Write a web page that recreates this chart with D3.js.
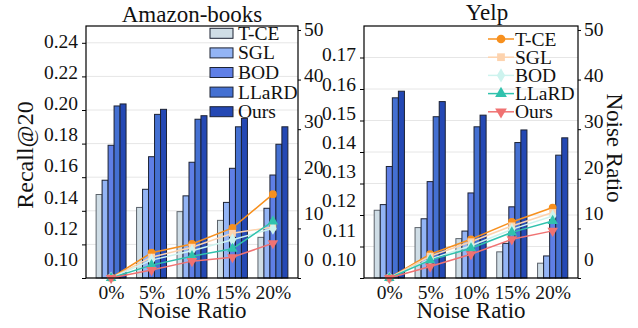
<!DOCTYPE html>
<html>
<head>
    <script src="https://d3js.org/d3.v7.min.js"></script>
    <style>
        body { margin: 0; background: #fff; }
        text { font-family: "Liberation Serif", "Times New Roman", serif; fill: #111; }
    </style>
</head>
<body>
    <div id="chart"></div>
    <script>
        // categories
        var ratios = ["0%", "5%", "10%", "15%", "20%"];
        var methods = ["T-CE", "SGL", "BOD", "LLaRD", "Ours"];

        // Amazon-books, Recall@20 (bars)
        var amazonTCE = [0.1497, 0.1420, 0.1395, 0.1343, 0.1242];
        var amazonSGL = [0.1582, 0.1528, 0.1489, 0.1450, 0.1415];
        var amazonBOD = [0.1790, 0.1722, 0.1689, 0.1653, 0.1613];
        var amazonLLaRD = [0.2024, 0.1974, 0.1945, 0.1900, 0.1796];
        var amazonOurs = [0.2036, 0.2004, 0.1966, 0.1950, 0.1900];

        // Amazon-books, drop in % (lines, right axis)
        var amazonDropTCE = [0, 5.1, 6.85, 10.1, 16.9];
        var amazonDropSGL = [0, 4.2, 6.2, 9.0, 10.3];
        var amazonDropBOD = [0, 3.6, 5.5, 7.7, 10.0];
        var amazonDropLLaRD = [0, 2.6, 4.4, 5.9, 11.4];
        var amazonDropOurs = [0, 1.6, 3.4, 4.2, 7.0];

        // Yelp, Recall@20 (bars)
        var yelpTCE = [0.1215, 0.1160, 0.1125, 0.1083, 0.1047];
        var yelpSGL = [0.1233, 0.1188, 0.1149, 0.1110, 0.1070];
        var yelpBOD = [0.1354, 0.1306, 0.1270, 0.1226, 0.1185];
        var yelpLLaRD = [0.1572, 0.1512, 0.1480, 0.1430, 0.1390];
        var yelpOurs = [0.1593, 0.1560, 0.1517, 0.1470, 0.1445];

        // Yelp, drop in % (lines, right axis)
        var yelpDropTCE = [0, 4.8, 7.8, 11.3, 14.2];
        var yelpDropSGL = [0, 4.4, 7.3, 10.5, 13.2];
        var yelpDropBOD = [0, 3.8, 6.5, 9.8, 12.5];
        var yelpDropLLaRD = [0, 3.6, 6.0, 9.2, 11.5];
        var yelpDropOurs = [0, 2.3, 4.8, 7.8, 9.5];

        var amazonTicks = [0.10, 0.12, 0.14, 0.16, 0.18, 0.20, 0.22, 0.24];
        var yelpTicks = [0.10, 0.11, 0.12, 0.13, 0.14, 0.15, 0.16, 0.17];
        var dropTicks = [0, 10, 20, 30, 40, 50];

        var barColors = ["#cfdde6", "#93b4f5", "#5f7fe6", "#4470d2", "#2448b4"];
        var lineColors = ["#f7901e", "#fdd3ae", "#cdf3ee", "#30c2ad", "#f07272"];
        var symbols = [d3.symbolCircle, d3.symbolSquare, d3.symbolDiamond, d3.symbolTriangle, d3.symbolTriangle];

        var W = 638, H = 328, plotTop = 26, plotBottom = 278;

        var svg = d3.select("#chart")
            .append("svg")
            .attr("width", W)
            .attr("height", H);

        // the text in the picture sits on a slightly squeezed vertical scale
        function labY(py) { return 41 + (py - 43) * 0.927; }

        function shiftLabels(axisG, scale) {
            axisG.selectAll(".tick text")
                .attr("dy", null)
                .attr("dominant-baseline", "central")
                .attr("y", function (d) { return labY(scale(d)) - scale(d); });
        }

        function marker(sel, k, size) {
            sel.attr("d", d3.symbol().type(symbols[k]).size(size))
                .attr("fill", lineColors[k]);
        }

        function drawPanel(p) {
            var g = svg.append("g");
            var x = d3.scaleLinear().domain([-0.62, 4.62]).range([p.left, p.right]);
            var y = d3.scaleLinear().domain(p.yDomain).range([plotBottom, plotTop]);
            var y2 = d3.scaleLinear().domain([0, 50.8]).range([plotBottom, plotTop]);
            var bw = 0.148;

            // grid
            g.selectAll(".grid")
                .data(p.yTicks)
                .enter().append("line")
                .attr("x1", p.left).attr("x2", p.right)
                .attr("y1", function (d) { return y(d); })
                .attr("y2", function (d) { return y(d); })
                .attr("stroke", "#e6e6e6")
                .attr("stroke-width", 1);

            // bars
            p.bars.forEach(function (vals, k) {
                g.selectAll(".bar" + k)
                    .data(vals)
                    .enter().append("rect")
                    .attr("x", function (d, i) { return x(i + (k - 2.5) * bw); })
                    .attr("width", x(bw) - x(0))
                    .attr("y", function (d) { return y(d); })
                    .attr("height", function (d) { return plotBottom - y(d); })
                    .attr("fill", barColors[k])
                    .attr("stroke", k == 0 ? "#5c636b" : "#1c2233")
                    .attr("stroke-width", 1);
            });

            // lines on the right axis
            var line = d3.line()
                .x(function (d, i) { return x(i); })
                .y(function (d) { return y2(d); });

            p.drops.forEach(function (vals, k) {
                g.append("path")
                    .datum(vals)
                    .attr("fill", "none")
                    .attr("stroke", lineColors[k])
                    .attr("stroke-width", 1.5)
                    .attr("d", line);
            });
            p.drops.forEach(function (vals, k) {
                g.selectAll(".mk" + k)
                    .data(vals)
                    .enter().append("path")
                    .attr("transform", function (d, i) {
                        return "translate(" + x(i) + "," + y2(d) + ")" + (k == 4 ? " rotate(180)" : "");
                    })
                    .call(marker, k, 48);
            });

            // frame
            g.append("rect")
                .attr("x", p.left).attr("y", plotTop)
                .attr("width", p.right - p.left).attr("height", plotBottom - plotTop)
                .attr("fill", "none")
                .attr("stroke", "#000")
                .attr("stroke-width", 1.2);

            // axes
            var ay = g.append("g")
                .attr("transform", "translate(" + p.left + ",0)")
                .call(d3.axisLeft(y).tickValues(p.yTicks).tickFormat(d3.format(".2f")).tickSize(4).tickPadding(4));
            var ay2 = g.append("g")
                .attr("transform", "translate(" + p.right + ",0)")
                .call(d3.axisRight(y2).tickValues(dropTicks).tickSize(3).tickPadding(3));
            var ax = g.append("g")
                .attr("transform", "translate(0," + plotBottom + ")")
                .call(d3.axisBottom(x).tickValues([0, 1, 2, 3, 4]).tickFormat(function (i) { return ratios[i]; }).tickSize(0).tickPadding(7));

            [ay, ay2, ax].forEach(function (a) {
                a.select(".domain").remove();
                a.selectAll("text").style("font-size", "19.5px").attr("fill", "#111");
            });
            shiftLabels(ay, y);
            shiftLabels(ay2, y2);

            // titles
            g.append("text")
                .attr("x", p.titleX).attr("y", p.titleY)
                .attr("text-anchor", "middle")
                .style("font-size", "23px")
                .text(p.title);

            g.append("text")
                .attr("x", (p.left + p.right) / 2).attr("y", 318)
                .attr("text-anchor", "middle")
                .style("font-size", "23px")
                .text("Noise Ratio");

            return { g: g, x: x };
        }

        var a = drawPanel({
            left: 86, right: 298,
            yDomain: [0.10, 0.25], yTicks: amazonTicks,
            bars: [amazonTCE, amazonSGL, amazonBOD, amazonLLaRD, amazonOurs],
            drops: [amazonDropTCE, amazonDropSGL, amazonDropBOD, amazonDropLLaRD, amazonDropOurs],
            title: "Amazon-books", titleX: 192, titleY: 22
        });

        var b = drawPanel({
            left: 364, right: 578,
            yDomain: [0.10, 0.18], yTicks: yelpTicks,
            bars: [yelpTCE, yelpSGL, yelpBOD, yelpLLaRD, yelpOurs],
            drops: [yelpDropTCE, yelpDropSGL, yelpDropBOD, yelpDropLLaRD, yelpDropOurs],
            title: "Yelp", titleX: 487, titleY: 20
        });

        // y labels
        svg.append("text")
            .attr("transform", "translate(33,155) rotate(-90)")
            .attr("text-anchor", "middle")
            .style("font-size", "24px")
            .text("Recall@20");

        svg.append("text")
            .attr("transform", "translate(607,148) rotate(90)")
            .attr("text-anchor", "middle")
            .style("font-size", "23px")
            .text("Noise Ratio");

        // legend with bar patches (left panel)
        var legA = a.g.append("g");
        methods.forEach(function (m, k) {
            var cy = 33.3 + k * 19.6;
            legA.append("rect")
                .attr("x", 210).attr("y", cy - 5)
                .attr("width", 23).attr("height", 10)
                .attr("fill", barColors[k])
                .attr("stroke", "#1c2233")
                .attr("stroke-width", 1);
            legA.append("text")
                .attr("x", 238).attr("y", cy)
                .attr("dominant-baseline", "central")
                .style("font-size", "19.5px")
                .text(m);
        });

        // legend with line markers (right panel)
        var legB = b.g.append("g");
        methods.forEach(function (m, k) {
            var cy = 39 + k * 18.2;
            legB.append("line")
                .attr("x1", 488).attr("x2", 514)
                .attr("y1", cy).attr("y2", cy)
                .attr("stroke", lineColors[k])
                .attr("stroke-width", 1.5);
            legB.append("path")
                .attr("transform", "translate(501," + cy + ")" + (k == 4 ? " rotate(180)" : ""))
                .call(marker, k, 60);
            legB.append("text")
                .attr("x", 515).attr("y", cy)
                .attr("dominant-baseline", "central")
                .style("font-size", "19.5px")
                .text(m);
        });
    </script>
</body>
</html>
